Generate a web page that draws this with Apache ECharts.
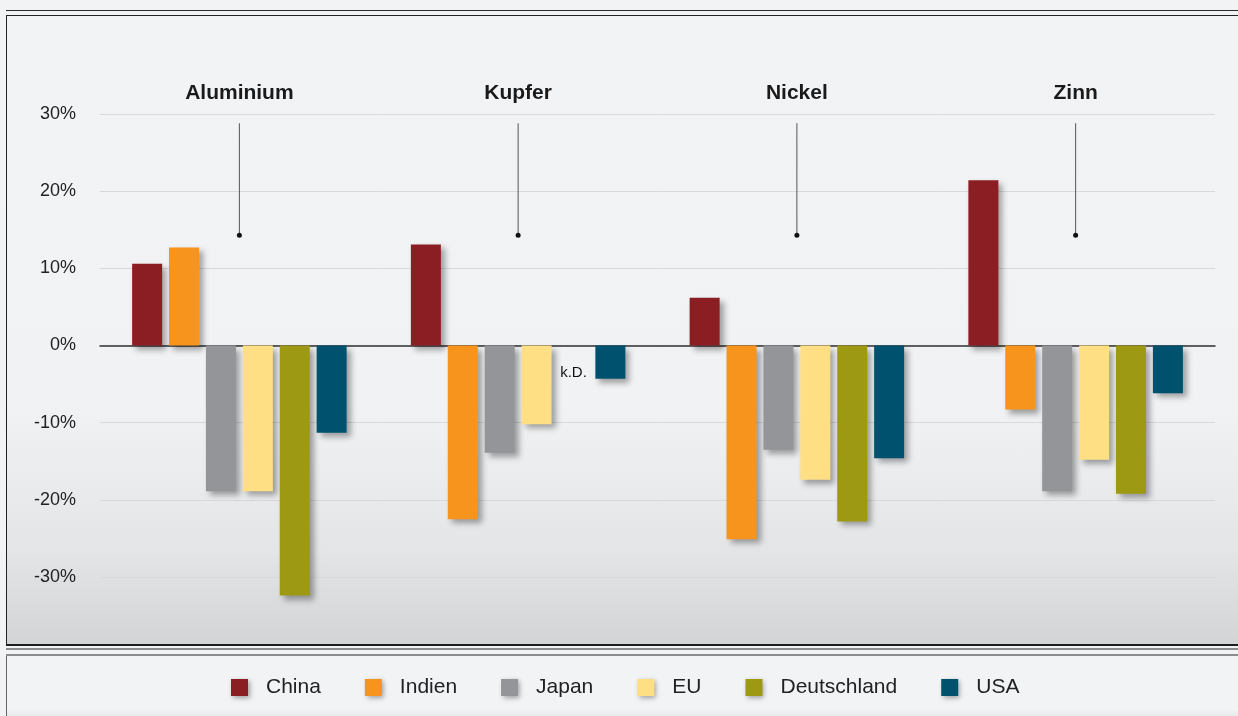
<!DOCTYPE html>
<html>
<head>
<meta charset="utf-8">
<script src="https://cdn.jsdelivr.net/npm/echarts@6/dist/echarts.min.js"></script>
<style>
  html, body { margin:0; padding:0; width:1238px; height:716px; overflow:hidden; background:#f2f3f5; }
  .line1 { position:absolute; top:10px; left:6px; right:0; height:1px; background:#2a2a2a; }
  .plotbox { position:absolute; top:15px; left:6px; right:-2px; height:628px;
    border-top:1px solid #222; border-left:1px solid #222; border-bottom:2px solid #1e1e1e;
    background:linear-gradient(to bottom, #f2f3f5 0%, #f1f2f4 62%, #e4e5e7 85%, #d3d4d6 100%); }
  .g1 { position:absolute; top:648px; left:6px; right:0; height:2px; background:#8c8c8c; }
  .g2 { position:absolute; top:654px; left:6px; right:0; height:2px; background:#8c8c8c; }
  .legbox { position:absolute; top:656px; left:6px; right:0; bottom:0; border-left:1px solid #666;
    background:linear-gradient(to bottom, #f2f3f5 0%, #f2f3f5 90%, #e8e9eb 100%); }
  #chart { position:absolute; left:0; top:0; width:1238px; height:716px; }
</style>
</head>
<body>
<div class="line1"></div>
<div class="plotbox"></div>
<div class="g1"></div>
<div class="g2"></div>
<div class="legbox"></div>
<div id="chart"></div>
<script>
var categories = ['Aluminium', 'Kupfer', 'Nickel', 'Zinn'];
var china       = [10.6, 13.1, 6.2, 21.4];
var indien      = [12.7, -22.5, -25.1, -8.3];
var japan       = [-18.9, -13.9, -13.5, -18.9];
var eu          = [-18.9, -10.2, -17.4, -14.8];
var deutschland = [-32.4, null, -22.8, -19.2];
var usa         = [-11.3, -4.3, -14.6, -6.2];
var markerTop    = [28.8, 28.8, 28.8, 28.8];
var markerBottom = [14.3, 14.3, 14.3, 14.3];
var yTicks = { min: -30, max: 30, interval: 10 };
var seriesNames = ['China', 'Indien', 'Japan', 'EU', 'Deutschland', 'USA'];
var colors = ['#8b1e22', '#f7941d', '#939598', '#ffdf84', '#9e9912', '#00516e'];
var font = 'Liberation Sans, Arial, sans-serif';

var values = [china, indien, japan, eu, deutschland, usa];

var barSeries = values.map(function (arr, i) {
  return {
    name: seriesNames[i],
    type: 'bar',
    barWidth: 30,
    barGap: '23%',
    clip: false,
    itemStyle: {
      color: colors[i],
      shadowColor: 'rgba(0,0,0,0.35)',
      shadowBlur: 6,
      shadowOffsetX: 4,
      shadowOffsetY: 4
    },
    data: arr.map(function (v) {
      if (v === null) {
        return {
          value: 0,
          itemStyle: { color: 'transparent', shadowColor: 'transparent' },
          label: { show: true, position: 'bottom', distance: 20, formatter: 'k.D.',
                   fontSize: 15, color: '#111', fontFamily: font }
        };
      }
      return v;
    })
  };
});

var markerSeries = {
  type: 'custom',
  silent: true,
  clip: false,
  z: 5,
  encode: { x: 0, y: [1, 2] },
  data: categories.map(function (c, i) { return [i, markerTop[i], markerBottom[i]]; }),
  renderItem: function (params, api) {
    var p1 = api.coord([api.value(0), api.value(1)]);
    var p2 = api.coord([api.value(0), api.value(2)]);
    return {
      type: 'group',
      children: [
        { type: 'line', shape: { x1: p1[0], y1: p1[1], x2: p2[0], y2: p2[1] },
          style: { stroke: '#555', lineWidth: 1 } },
        { type: 'circle', shape: { cx: p2[0], cy: p2[1], r: 2.5 },
          style: { fill: '#111' } }
      ]
    };
  }
};

var chart = echarts.init(document.getElementById('chart'), null, { renderer: 'canvas' });
chart.setOption({
  backgroundColor: 'transparent',
  animation: false,
  textStyle: { fontFamily: font },
  grid: { left: 100, right: 23, top: 114, bottom: 139, containLabel: false },
  legend: {
    data: seriesNames,
    left: 231,
    top: 677,
    padding: 0,
    itemWidth: 17,
    itemHeight: 17,
    itemGap: 44,
    icon: 'rect',
    itemStyle: { shadowColor: 'rgba(0,0,0,0.35)', shadowBlur: 5, shadowOffsetX: 2, shadowOffsetY: 2 },
    textStyle: { fontSize: 21, color: '#222', fontFamily: font, padding: [0, 0, 0, 13] }
  },
  xAxis: [
    {
      type: 'category',
      data: categories,
      axisLine: { show: true, onZero: true, lineStyle: { color: '#333', width: 1.5 } },
      axisTick: { show: false },
      axisLabel: { show: false },
      splitLine: { show: false }
    },
    {
      type: 'category',
      data: categories,
      position: 'top',
      axisLine: { show: false },
      axisTick: { show: false },
      axisLabel: { show: true, margin: 10, fontSize: 21, fontWeight: 'bold', color: '#1a1a1a', fontFamily: font },
      splitLine: { show: false }
    }
  ],
  yAxis: {
    type: 'value',
    min: yTicks.min,
    max: yTicks.max,
    interval: yTicks.interval,
    axisLine: { show: false },
    axisTick: { show: false },
    axisLabel: { formatter: '{value}%', margin: 24, fontSize: 18, color: '#222', fontFamily: font, padding: [2, 0, 0, 0] },
    splitLine: { show: true, lineStyle: { color: '#d8d9db', width: 1 } }
  },
  series: barSeries.concat([markerSeries])
});
</script>
</body>
</html>
